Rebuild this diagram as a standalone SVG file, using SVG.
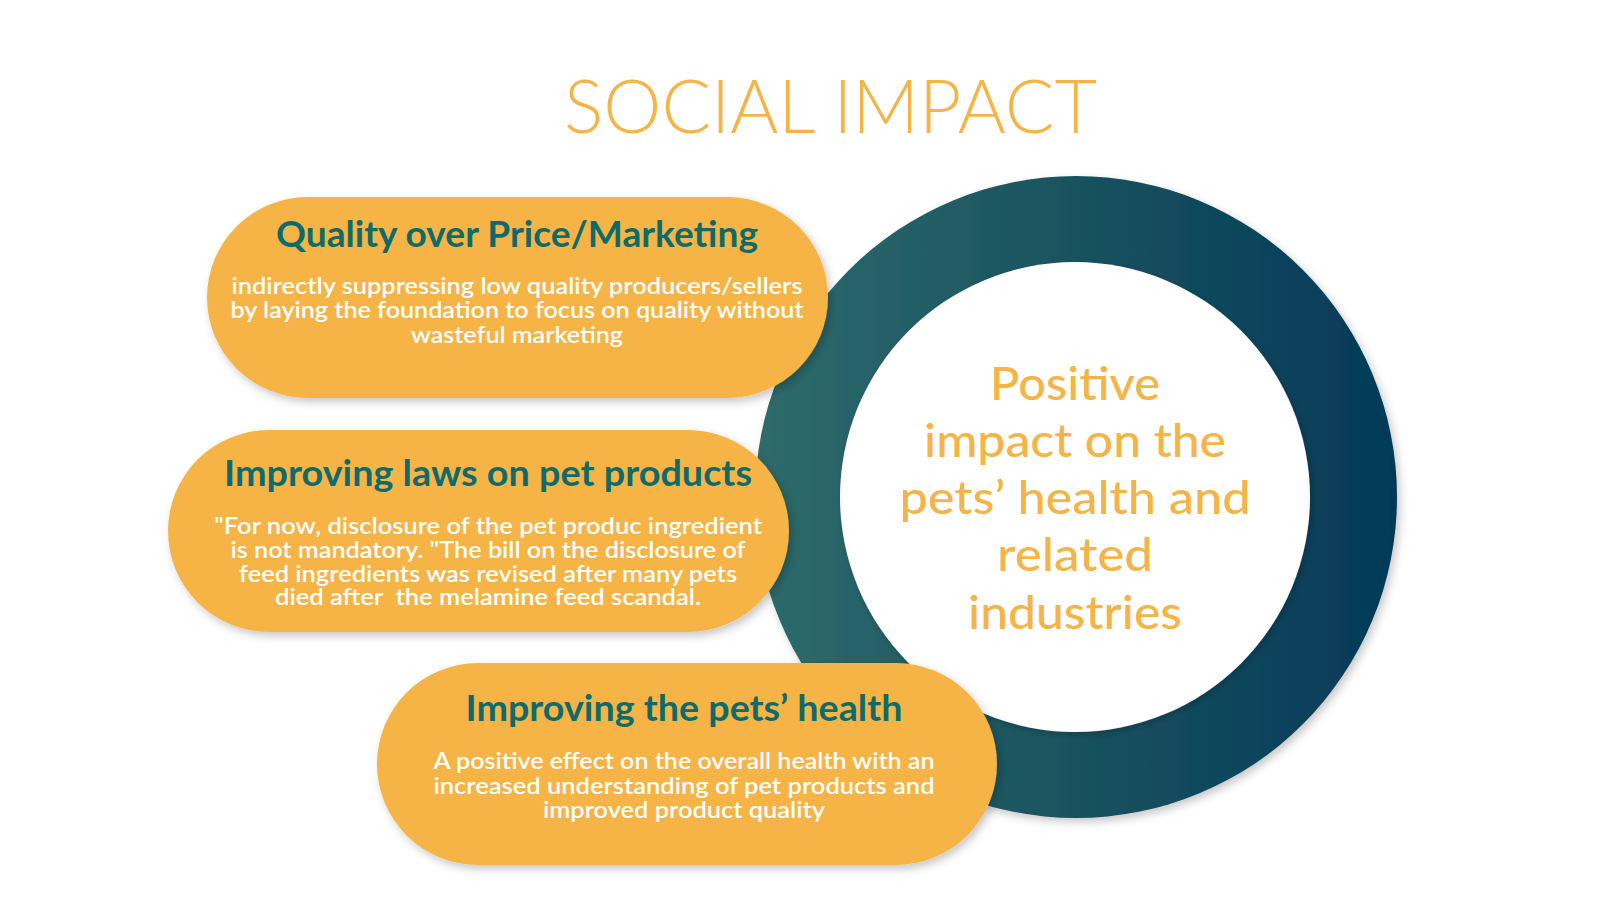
<svg xmlns="http://www.w3.org/2000/svg" width="1600" height="900" viewBox="0 0 1600 900">
  <defs>
    <linearGradient id="ringGrad" x1="755" y1="0" x2="1397" y2="0" gradientUnits="userSpaceOnUse">
      <stop offset="0" stop-color="#2e6b6b"/>
      <stop offset="0.5" stop-color="#19525f"/>
      <stop offset="1" stop-color="#033958"/>
    </linearGradient>
    <filter id="shadow" x="-10%" y="-10%" width="120%" height="125%">
      <feDropShadow dx="3" dy="4" stdDeviation="4" flood-color="#000" flood-opacity="0.22"/>
    </filter>
    <filter id="innerShadow" x="-10%" y="-10%" width="120%" height="120%">
      <feDropShadow dx="2" dy="3" stdDeviation="3" flood-color="#000" flood-opacity="0.2"/>
    </filter>
  </defs>
  <style>
    .pill { fill: #f5b445; }
    .ptitle { font-family: Lato, "Open Sans", sans-serif; font-weight: 700; font-size: 36px; fill: #0f6b6b; text-anchor: middle; }
    .pbody { font-family: Lato, "Open Sans", sans-serif; font-weight: 600; font-size: 23px; fill: #ffffff; text-anchor: middle; }
    .center { font-family: Lato, "Open Sans", sans-serif; font-weight: 500; font-size: 46px; fill: #f5b445; text-anchor: middle; }
    .title { font-family: Lato, "Open Sans", sans-serif; font-weight: 300; font-size: 75px; fill: #f5b445; text-anchor: middle; }
  </style>
  <rect width="1600" height="900" fill="#ffffff"/>

  <text class="title" x="830.5" y="133" textLength="533" lengthAdjust="spacingAndGlyphs">SOCIAL IMPACT</text>

  <g id="ring">
    <circle cx="1076" cy="497" r="321" fill="url(#ringGrad)" filter="url(#shadow)"/>
    <circle cx="1075" cy="497" r="235" fill="#ffffff" filter="url(#innerShadow)"/>
    <text class="center" x="1075" y="400" textLength="170" lengthAdjust="spacingAndGlyphs">Positive</text>
    <text class="center" x="1075" y="457" textLength="302" lengthAdjust="spacingAndGlyphs">impact on the</text>
    <text class="center" x="1075" y="514" textLength="351" lengthAdjust="spacingAndGlyphs">pets’ health and</text>
    <text class="center" x="1075" y="571" textLength="156" lengthAdjust="spacingAndGlyphs">related</text>
    <text class="center" x="1075" y="629" textLength="214" lengthAdjust="spacingAndGlyphs">industries</text>
  </g>

  <g id="pill-quality">
    <rect class="pill" x="207" y="197" width="621" height="201" rx="100.5" ry="100.5" filter="url(#shadow)"/>
    <text class="ptitle" x="517" y="247" textLength="482" lengthAdjust="spacingAndGlyphs">Quality over Price/Marketing</text>
    <text class="pbody" x="517" y="294" textLength="571" lengthAdjust="spacingAndGlyphs">indirectly suppressing low quality producers/sellers</text>
    <text class="pbody" x="517" y="318" textLength="573" lengthAdjust="spacingAndGlyphs">by laying the foundation to focus on quality without</text>
    <text class="pbody" x="517" y="343" textLength="212" lengthAdjust="spacingAndGlyphs">wasteful marketing</text>
  </g>

  <g id="pill-laws">
    <rect class="pill" x="168" y="430" width="621" height="202" rx="101" ry="101" filter="url(#shadow)"/>
    <text class="ptitle" x="488" y="486" textLength="528" lengthAdjust="spacingAndGlyphs">Improving laws on pet products</text>
    <text class="pbody" x="488" y="534" textLength="548" lengthAdjust="spacingAndGlyphs">"For now, disclosure of the pet produc ingredient</text>
    <text class="pbody" x="488" y="558" textLength="515" lengthAdjust="spacingAndGlyphs">is not mandatory. "The bill on the disclosure of</text>
    <text class="pbody" x="488" y="582" textLength="498" lengthAdjust="spacingAndGlyphs">feed ingredients was revised after many pets</text>
    <text class="pbody" x="488" y="605" textLength="426" lengthAdjust="spacingAndGlyphs" xml:space="preserve">died after  the melamine feed scandal.</text>
  </g>

  <g id="pill-health">
    <rect class="pill" x="377" y="663" width="620" height="202" rx="101" ry="101" filter="url(#shadow)"/>
    <text class="ptitle" x="684" y="721" textLength="437" lengthAdjust="spacingAndGlyphs">Improving the pets’ health</text>
    <text class="pbody" x="684" y="769" textLength="501" lengthAdjust="spacingAndGlyphs">A positive effect on the overall health with an</text>
    <text class="pbody" x="684" y="794" textLength="501" lengthAdjust="spacingAndGlyphs">increased understanding of pet products and</text>
    <text class="pbody" x="684" y="818" textLength="282" lengthAdjust="spacingAndGlyphs">improved product quality</text>
  </g>

  <g id="connectors"></g>
</svg>
